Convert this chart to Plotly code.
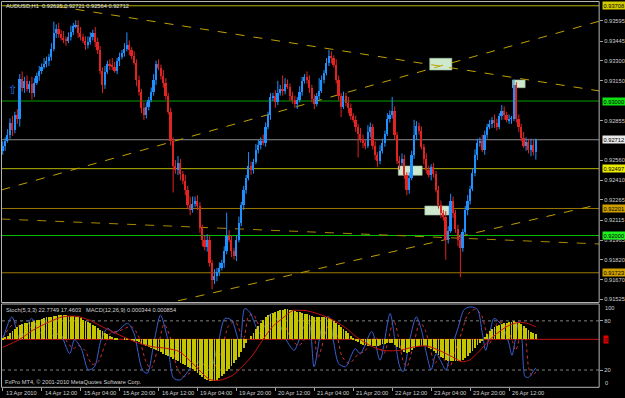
import plotly.graph_objects as go

W, H = 625, 398

# ---------------- data (prices x1e-4) ----------------
OPEN0 = 9263
CLOSE = [
    9267, 9271, 9275, 9284, 9279, 9290, 9287, 9317, 9310, 9315, 9309, 9313, 9306, 9314, 9319, 9323, 9326, 9328, 9330, 9333,
    9339, 9351, 9354, 9350, 9347, 9346, 9345, 9348, 9352, 9356, 9357, 9351, 9348, 9345, 9342, 9344, 9348, 9351, 9344, 9338,
    9323, 9312, 9322, 9328, 9327, 9326, 9323, 9330, 9333, 9336, 9339, 9342, 9338, 9334, 9329, 9316, 9307, 9295, 9290, 9296,
    9301, 9307, 9316, 9328, 9325, 9319, 9314, 9304, 9292, 9271, 9252, 9249, 9254, 9246, 9241, 9234, 9223, 9219, 9224, 9226,
    9222, 9206, 9197, 9192, 9197, 9180, 9167, 9170, 9173, 9176, 9180, 9189, 9200, 9197, 9189, 9185, 9197, 9210, 9223, 9234,
    9243, 9252, 9249, 9255, 9264, 9268, 9271, 9269, 9281, 9290, 9303, 9304, 9300, 9306, 9309, 9308, 9313, 9311, 9304, 9301,
    9298, 9301, 9307, 9315, 9318, 9316, 9310, 9302, 9298, 9304, 9308, 9316, 9321, 9329, 9334, 9332, 9327, 9316, 9304, 9296,
    9304, 9299, 9295, 9289, 9286, 9281, 9276, 9272, 9269, 9267, 9277, 9281, 9267, 9260, 9256, 9263, 9269, 9276, 9287, 9290,
    9293, 9275, 9256, 9254, 9257, 9245, 9234, 9243, 9260, 9275, 9282, 9278, 9266, 9257, 9249, 9245, 9251, 9246, 9234, 9223,
    9217, 9214, 9197, 9204, 9226, 9217, 9205, 9197, 9191, 9203, 9219, 9226, 9235, 9247, 9260, 9269, 9271, 9264, 9275, 9281,
    9283, 9286, 9284, 9281, 9289, 9293, 9290, 9286, 9287, 9287, 9312, 9287, 9281, 9273, 9267, 9270, 9264, 9268, 9262.5, 9271.2,
]
UPPER_WICK = [
    3, 2, 4, 3, 5, 2, 4, 3, 5, 3, 4, 2, 5, 3, 2, 3, 2, 4, 3, 2,
    4, 8, 3, 4, 3, 5, 2, 3, 4, 2, 3, 3, 4, 2, 3, 4, 3, 2, 4, 3,
    3, 2, 4, 2, 3, 5, 3, 2, 3, 2, 4, 9, 3, 2, 3, 2, 3, 2, 4, 3,
    2, 3, 4, 2, 3, 2, 4, 3, 2, 3, 2, 4, 5, 3, 2, 4, 3, 6, 5, 3,
    4, 3, 2, 3, 4, 3, 2, 5, 3, 4, 2, 3, 17, 4, 3, 2, 3, 4, 2, 3,
    2, 10, 3, 2, 4, 3, 2, 4, 3, 2, 3, 2, 4, 9, 3, 10, 4, 3, 2, 3,
    3, 2, 4, 3, 2, 4, 3, 2, 3, 2, 9, 3, 2, 3, 4, 3, 2, 4, 3, 2,
    3, 2, 4, 3, 2, 3, 2, 4, 3, 2, 5, 3, 2, 3, 2, 4, 3, 2, 4, 3,
    10, 3, 2, 3, 4, 3, 2, 4, 3, 11, 3, 2, 3, 2, 4, 3, 2, 3, 2, 3,
    3, 2, 4, 3, 5, 3, 2, 3, 4, 2, 3, 4, 2, 3, 4, 3, 2, 4, 3, 2,
    3, 2, 4, 3, 2, 4, 3, 2, 3, 2, 4, 2, 3, 2, 4, 3, 2, 4, 3, 0.9,
]
LOWER_WICK = [
    3, 4, 2, 3, 5, 3, 4, 6, 3, 4, 2, 3, 5, 3, 2, 4, 3, 2, 3, 4,
    3, 2, 4, 3, 2, 3, 4, 2, 3, 3, 2, 4, 3, 2, 4, 3, 2, 3, 4, 3,
    3, 6, 3, 2, 4, 3, 2, 3, 4, 2, 3, 2, 4, 3, 2, 5, 3, 4, 4, 3,
    3, 2, 3, 4, 2, 3, 4, 3, 2, 4, 20, 3, 4, 5, 3, 4, 3, 4, 2, 3,
    3, 4, 5, 3, 4, 3, 7, 3, 4, 3, 2, 4, 3, 2, 5, 3, 4, 2, 3, 4,
    3, 2, 4, 3, 2, 3, 4, 2, 3, 2, 4, 3, 5, 3, 2, 4, 3, 2, 4, 3,
    3, 4, 2, 3, 2, 3, 4, 3, 4, 2, 3, 2, 3, 2, 3, 4, 2, 3, 4, 8,
    2, 3, 4, 3, 2, 4, 18, 3, 4, 3, 2, 4, 3, 4, 5, 3, 2, 3, 2, 3,
    3, 4, 3, 5, 2, 3, 4, 3, 2, 3, 4, 3, 2, 4, 3, 2, 4, 3, 2, 3,
    4, 3, 15, 3, 2, 4, 3, 5, 22, 3, 2, 4, 3, 2, 3, 4, 3, 2, 4, 3,
    2, 3, 4, 3, 2, 3, 4, 2, 3, 4, 2, 3, 4, 3, 2, 4, 3, 5, 3, 6.1,
]
# MACD main (x1e-5), one value per bar
MACD = [
    7, 14, 21, 41, 55, 69, 83, 96, 103, 110, 110, 117, 120, 124, 131, 134, 141, 144, 151, 155,
    156, 158, 162, 165, 167, 167, 165, 162, 162, 158, 155, 151, 144, 134, 124, 117, 110, 100, 89, 76,
    62, 55, 45, 34, 24, 14, 7, 3, 0, 0, 3, 3, 0, -3, -7, -14, -21, -31, -41, -48,
    -55, -62, -69, -76, -83, -89, -100, -107, -117, -124, -134, -144, -151, -162, -172, -179, -189, -196, -206, -220,
    -234, -248, -261, -275, -282, -289, -289, -286, -279, -268, -255, -241, -220, -203, -186, -165, -144, -120, -89, -62,
    -28, 0, 21, 45, 69, 89, 114, 131, 151, 165, 175, 182, 189, 196, 200, 203, 206, 206, 203, 200,
    193, 189, 186, 182, 175, 172, 165, 158, 155, 151, 151, 151, 155, 155, 148, 138, 127, 114, 100, 86,
    72, 58, 41, 24, 10, -7, -21, -31, -38, -41, -45, -48, -48, -48, -45, -41, -34, -31, -28, -24,
    -28, -38, -52, -62, -76, -89, -96, -89, -76, -62, -55, -48, -45, -45, -48, -58, -69, -83, -96, -110,
    -120, -131, -141, -148, -151, -151, -151, -151, -148, -141, -131, -117, -96, -79, -62, -41, -24, -7, 14, 34,
    55, 72, 83, 93, 100, 103, 110, 114, 117, 120, 124, 120, 114, 103, 89, 76, 62, 48, 41, 34.4,
]
# MACD signal (bar, x1e-5)
MACD_SIGNAL = [(0, -55), (7, 0), (12.3, 62), (19.3, 121), (24.6, 155), (30.4, 158), (35.7, 131), (39.8, 96),
               (45.1, 52), (50.9, 7), (56.2, -28), (61.5, -51), (67.3, -62), (72.6, -85), (76.7, -144),
               (80.8, -213), (84.9, -275), (89, -282), (94.4, -248), (98.5, -186), (102.6, -110), (106.7, -7),
               (110.8, 87), (114.9, 144), (119, 197), (121.8, 200), (124.7, 197), (128.8, 179), (132.9, 155),
               (137, 121), (141.1, 76), (145.2, 18), (149.3, -28), (153.4, -62), (157.5, -78), (162.9, -76),
               (168.2, -55), (173.9, -45), (179.3, -76), (184.6, -120), (188.7, -154), (191.6, -144),
               (195.7, -83), (199.8, -7), (203.9, 52), (208, 96), (212.1, 117), (215.4, 110), (219, 85.4)]
STOCH_K = [(0, 57), (3.8, 85), (7.2, 57), (11.9, 83), (15.3, 65), (18, 79), (20.7, 61), (23.4, 65), (27.5, 40),
           (29.5, 57), (32.3, 46), (35.2, 20), (37.7, 24), (40.4, 57), (43.1, 71), (45.8, 65), (51.3, 77),
           (53.9, 65), (57.4, 20), (59.4, 16), (62.1, 53), (64.8, 87), (67.5, 61), (70.2, 10), (72.9, 8),
           (77.7, 24), (81.1, 30), (85.1, 20), (88.5, 53), (91.3, 83), (94, 81), (97.4, 53), (99.4, 95),
           (101.4, 91), (103.5, 77), (105.5, 65), (108.2, 77), (110.3, 89), (113.6, 77), (116.4, 57),
           (119.7, 44), (121.8, 57), (123.8, 73), (125.8, 77), (127.9, 24), (131.9, 81), (134, 85), (136, 53),
           (138, 28), (140.8, 24), (144.8, 46), (146.9, 40), (151.6, 67), (155, 32), (159.1, 89), (161.1, 57),
           (163.1, 24), (164.5, 18), (167.2, 57), (169.9, 85), (171.9, 70), (174, 41), (176, 20), (178, 40),
           (180.1, 30), (182.1, 20), (184.1, 44), (186.9, 70), (189.6, 94), (192.3, 97), (195, 94), (197, 65),
           (198.4, 44), (200.4, 70), (201.8, 83), (203.8, 79), (205.9, 70), (207.9, 53), (209.2, 38), (212, 79),
           (213.3, 57), (214.6, 12), (216, 11), (217.4, 16), (219, 22.77)]
STOCH_D = [(0, 60), (5.3, 78), (8.7, 64), (13.4, 77), (16.8, 69), (19.5, 74), (22.2, 64), (24.9, 60), (29, 46),
           (31, 50), (33.8, 44), (36.7, 27), (39.2, 30), (41.9, 50), (44.6, 66), (47.3, 67), (52.8, 73),
           (55.4, 64), (58.9, 30), (60.9, 22), (63.6, 45), (66.3, 76), (69, 58), (71.7, 22), (74.4, 12),
           (79.2, 22), (82.6, 27), (86.6, 23), (90, 45), (92.8, 74), (95.5, 79), (98.9, 58), (100.9, 85),
           (102.9, 88), (105, 76), (107, 70), (109.7, 76), (111.8, 84), (115.1, 78), (117.9, 62), (121.2, 50),
           (123.3, 54), (125.3, 67), (127.3, 72), (129.4, 35), (133.4, 72), (135.5, 80), (137.5, 60),
           (139.5, 36), (142.3, 28), (146.3, 40), (148.4, 42), (153.1, 60), (156.5, 40), (160.6, 80),
           (162.6, 60), (164.6, 30), (166, 24), (168.7, 50), (171.4, 78), (173.4, 70), (175.5, 48), (177.5, 28),
           (179.5, 36), (181.6, 32), (183.6, 24), (185.6, 40), (188.4, 65), (191.1, 88), (193.8, 94),
           (196.5, 88), (198.5, 68), (199.9, 52), (201.9, 66), (203.3, 78), (205.3, 78), (207.4, 70),
           (209.4, 55), (210.7, 44), (213.5, 70), (214.8, 58), (216.1, 22), (217.5, 13), (219, 17.46)]

TITLE = "AUDUSD,H1  0.92625 0.92721 0.92564 0.92712"
SUB_TITLE = "Stoch(5,3,3) 22.7749 17.4603   MACD(12,26,9) 0.000344 0.000854"
COPYRIGHT = "FxPro MT4, \u00a9 2001-2010 MetaQuotes Software Corp."
TIME_BARS = [0, 16, 32, 48, 64, 80, 96, 112, 128, 144, 160, 176, 192, 208]
TIME_LABELS = ["13 Apr 2010", "14 Apr 12:00", "15 Apr 04:00", "15 Apr 20:00", "16 Apr 12:00",
               "19 Apr 04:00", "19 Apr 20:00", "20 Apr 12:00", "21 Apr 04:00", "21 Apr 20:00",
               "22 Apr 12:00", "23 Apr 04:00", "23 Apr 20:00", "26 Apr 12:00"]
PRICE_TICKS = [0.93595, 0.93445, 0.93300, 0.93150, 0.92855, 0.92560, 0.92410, 0.92265,
               0.92115, 0.91965, 0.91820, 0.91670, 0.91525]
# horizontal levels: price, line colour, label background
LEVELS = [(0.93708, "#B4B400", "#D2CC00"), (0.93000, "#00A000", "#10E010"),
          (0.92497, "#B4B400", "#ECEC00"), (0.92201, "#9A7800", "#D0A000"),
          (0.92000, "#00C000", "#20F020"), (0.91723, "#9A7800", "#D0A000")]
BID = 0.92712
# trend lines: (bar0, price0, bar1, price1, colour)
TRENDLINES = [(22.6, 0.937026, 245.3, 0.930743, "#C0A000"),
              (-0.6, 0.923383, 245.3, 0.935948, "#C0A000"),
              (-0.6, 0.921227, 245.3, 0.919368, "#A88800"),
              (72.0, 0.915145, 245.3, 0.922320, "#C0A000")]
# rectangles: bar0, bar1, price_top, price_bottom
RECTS = [(175.4, 184.5, 0.933175, 0.932305), (209.4, 214.6, 0.931561, 0.930989),
         (162.5, 172.3, 0.925167, 0.924476), (173.4, 183.3, 0.922193, 0.921524)]
ARROW = (4.1, 0.930818)

# ---------------- geometry ----------------
XL, XR = -0.3, 245.0
PMIN, PMAX = 0.915019, 0.937398
FONT = "Liberation Sans"
FS = 5.7
TXT = "#D0D0D0"

n = len(CLOSE)
idx = list(range(n))
opens = [OPEN0] + CLOSE[:-1]
o = [v / 1e4 for v in opens]
c = [v / 1e4 for v in CLOSE]
hi = [max(a, b) + u / 1e4 for a, b, u in zip(o, c, UPPER_WICK)]
lo = [min(a, b) - w / 1e4 for a, b, w in zip(o, c, LOWER_WICK)]
up = [cc >= oo for oo, cc in zip(o, c)]
BULL, BEAR = "#2090FF", "#E02424"

fig = go.Figure()

# wicks
for flag, col in ((True, BULL), (False, BEAR)):
    xs, ys = [], []
    for i in idx:
        if up[i] == flag:
            xs += [i, i, None]
            ys += [lo[i], hi[i], None]
    fig.add_trace(go.Scatter(x=xs, y=ys, mode="lines", line=dict(color=col, width=1),
                             hoverinfo="skip", xaxis="x", yaxis="y"))
# bodies
fig.add_trace(go.Bar(x=idx, base=[min(a, b) for a, b in zip(o, c)],
                     y=[max(abs(b - a), 0.00002) for a, b in zip(o, c)],
                     width=0.7, marker=dict(color=[BULL if u else BEAR for u in up], line=dict(width=0)),
                     hoverinfo="skip", xaxis="x", yaxis="y"))

# lower pane: MACD histogram, signal, stochastic
fig.add_trace(go.Bar(x=idx, y=[v * 1e-5 for v in MACD], width=0.36,
                     marker=dict(color="#C4C400", line=dict(width=0)),
                     hoverinfo="skip", xaxis="x2", yaxis="y3"))
fig.add_trace(go.Scatter(x=[p[0] for p in MACD_SIGNAL], y=[p[1] * 1e-5 for p in MACD_SIGNAL],
                         mode="lines", line=dict(color="#C81010", width=1, shape="spline", smoothing=0.8),
                         hoverinfo="skip", xaxis="x2", yaxis="y3"))
fig.add_trace(go.Scatter(x=[p[0] for p in STOCH_D], y=[p[1] for p in STOCH_D], mode="lines",
                         line=dict(color="#D03030", width=1, dash="dot", shape="spline", smoothing=0.8),
                         hoverinfo="skip", xaxis="x2", yaxis="y2"))
fig.add_trace(go.Scatter(x=[p[0] for p in STOCH_K], y=[p[1] for p in STOCH_K], mode="lines",
                         line=dict(color="#3A5FD0", width=1, shape="spline", smoothing=0.8),
                         hoverinfo="skip", xaxis="x2", yaxis="y2"))

shapes = []
for b0, b1, pt, pb in RECTS:
    shapes.append(dict(type="rect", xref="x", yref="y", x0=b0, x1=b1, y0=pb, y1=pt,
                       fillcolor="#CDE8CD", line=dict(width=0.6, color="#A0C0A0"), layer="below"))
for p, lc, _ in LEVELS:
    shapes.append(dict(type="line", xref="x domain", yref="y", x0=0, x1=1, y0=p, y1=p,
                       line=dict(color=lc, width=1), layer="below"))
shapes.append(dict(type="line", xref="x domain", yref="y", x0=0, x1=1, y0=BID, y1=BID,
                   line=dict(color="#8C8C8C", width=1), layer="below"))
for b0, p0, b1, p1, col in TRENDLINES:
    shapes.append(dict(type="line", xref="x", yref="y", x0=b0, x1=b1, y0=p0, y1=p1,
                       line=dict(color=col, width=1, dash="dash"), layer="below"))
# lower-pane levels
for lv in (80, 20):
    shapes.append(dict(type="line", xref="x2 domain", yref="y2", x0=0, x1=1, y0=lv, y1=lv,
                       line=dict(color="#808080", width=1, dash="dot"), layer="below"))
shapes.append(dict(type="line", xref="x2 domain", yref="y3", x0=0, x1=1, y0=0, y1=0,
                   line=dict(color="#C81010", width=1), layer="below"))
# frames
FRAME = "#B4B4B4"
for (x0, y0, x1, y1) in ((1.5, 1.5, 603, 302.5), (1.5, 304, 603, 387.3)):
    shapes.append(dict(type="rect", xref="paper", yref="paper", x0=x0 / W, x1=x1 / W,
                       y0=1 - y1 / H, y1=1 - y0 / H, line=dict(color=FRAME, width=1),
                       fillcolor="rgba(0,0,0,0)", layer="above"))

ann = []
for p, _, bg in LEVELS:
    ann.append(dict(xref="paper", yref="y", x=605.5 / W, y=p, xanchor="left", yanchor="middle",
                    text="%.5f" % p, showarrow=False, bgcolor=bg, borderpad=0.5,
                    font=dict(family=FONT, size=FS, color="#000000")))
ann.append(dict(xref="paper", yref="y", x=605.5 / W, y=BID, xanchor="left", yanchor="middle",
                text="%.5f" % BID, showarrow=False, bgcolor="#E8E8E8", borderpad=0.5,
                font=dict(family=FONT, size=FS, color="#000000")))
ann.append(dict(xref="paper", yref="y3", x=607 / W, y=0, xanchor="left", yanchor="middle",
                text="0", showarrow=False, bgcolor="#E00000", borderpad=0.5,
                font=dict(family=FONT, size=FS, color="#300000")))
ann.append(dict(xref="paper", yref="y2", x=607 / W, y=100, yshift=-4, xanchor="left", yanchor="middle",
                text="100", showarrow=False, font=dict(family=FONT, size=FS, color=TXT)))
ann.append(dict(xref="paper", yref="y2", x=607 / W, y=0, yshift=3, xanchor="left", yanchor="middle",
                text="0", showarrow=False, font=dict(family=FONT, size=FS, color=TXT)))
for b, t in zip(TIME_BARS, TIME_LABELS):
    ann.append(dict(xref="x2", yref="paper", x=b, y=1 - 393 / H, xanchor="left", yanchor="middle",
                    xshift=1, text=t, showarrow=False, font=dict(family=FONT, size=FS, color=TXT)))
ann.append(dict(xref="paper", yref="paper", x=4 / W, y=1 - 6 / H, xanchor="left", yanchor="middle",
                text=TITLE, showarrow=False, font=dict(family=FONT, size=FS, color="#E8E8E8")))
ann.append(dict(xref="paper", yref="paper", x=4 / W, y=1 - 310 / H, xanchor="left", yanchor="middle",
                text=SUB_TITLE, showarrow=False, font=dict(family=FONT, size=FS, color=TXT)))
ann.append(dict(xref="paper", yref="paper", x=3 / W, y=1 - 381.5 / H, xanchor="left", yanchor="middle",
                text=COPYRIGHT, showarrow=False, font=dict(family=FONT, size=FS, color=TXT)))
ann.append(dict(xref="x", yref="y", x=ARROW[0], y=ARROW[1], xanchor="center", yanchor="middle",
                text="\u21e7", showarrow=False, font=dict(family="DejaVu Sans", size=12, color="#2070E0")))

tickfont = dict(family=FONT, size=FS, color=TXT)
fig.update_layout(
    width=W, height=H, margin=dict(l=0, r=0, t=0, b=0),
    paper_bgcolor="#000000", plot_bgcolor="#000000", showlegend=False,
    barmode="overlay", bargap=0, hovermode=False,
    xaxis=dict(domain=[2 / W, 603 / W], range=[XL, XR], anchor="y", showticklabels=False,
               showgrid=False, zeroline=False, ticks=""),
    yaxis=dict(domain=[1 - 302.5 / H, 1 - 1.5 / H], range=[PMIN, PMAX], anchor="x", side="right",
               tickmode="array", tickvals=PRICE_TICKS, ticktext=["%.5f" % v for v in PRICE_TICKS],
               ticks="outside", ticklen=3, tickcolor="#A0A0A0", tickfont=tickfont,
               showgrid=False, zeroline=False, showline=False),
    xaxis2=dict(domain=[2 / W, 603 / W], range=[XL, XR], anchor="y2", tickmode="array",
                tickvals=TIME_BARS, ticks="outside", ticklen=3, tickcolor="#A0A0A0",
                showticklabels=False, showgrid=False, zeroline=False),
    yaxis2=dict(domain=[1 - 387.3 / H, 1 - 304 / H], range=[-1.1, 100.6], anchor="x2", side="right",
                tickmode="array", tickvals=[80, 20], ticktext=["80", "20"], ticks="outside", ticklen=3,
                tickcolor="#A0A0A0", tickfont=tickfont, showgrid=False, zeroline=False),
    yaxis3=dict(overlaying="y2", anchor="x2", range=[-330e-5, 243e-5], visible=False,
                showgrid=False, zeroline=False),
    shapes=shapes, annotations=ann,
)

fig.write_html("out.html")
